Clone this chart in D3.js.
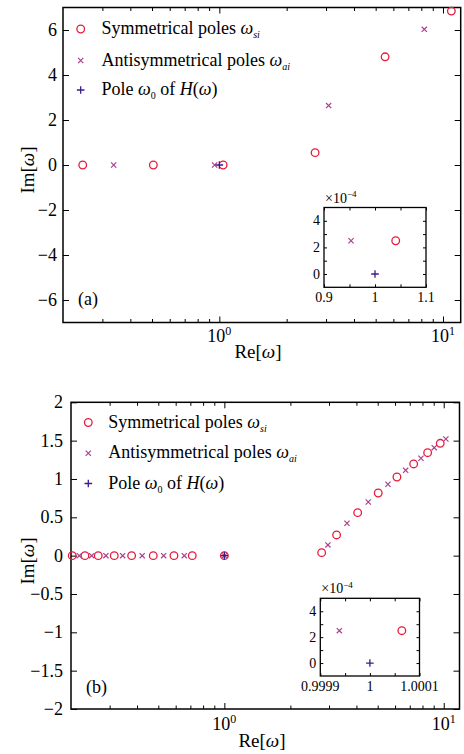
<!DOCTYPE html>
<html>
<head>
<meta charset="utf-8">
<script src="https://cdn.jsdelivr.net/npm/d3@7"></script>
<style>
  body { margin: 0; background: #fff; }
  svg, svg text, svg tspan { font-family: "Liberation Serif", "Times New Roman", serif; }
  svg text { fill: #000; }
</style>
</head>
<body>
<svg id="chart" width="464" height="754" font-family="Liberation Serif, serif"></svg>
<script>
// ---------- panel (a) ----------
const symReA  = [0.245, 0.507, 1.04, 2.68, 5.51, 10.9];
const symImA  = [0, 0, 0, 0.55, 4.81, 6.84];
const antiReA = [0.337, 0.953, 3.08, 8.25];
const antiImA = [0, 0, 2.64, 6.03];
const poleReA = [1.0];
const poleImA = [0];
const yTicksA = [-6, -4, -2, 0, 2, 4, 6];

// inset (a): imaginary part in units of 1e-4
const insSymReA  = [1.0406], insSymImA  = [2.5];
const insAntiReA = [0.953],  insAntiImA = [2.5];
const insPoleReA = [1.0],    insPoleImA = [0];
const insXTicksA  = [0.9, 1, 1.1];
const insXLabelsA = ["0.9", "1", "1.1"];
const insXMinorA  = [0.95, 1.05];

// ---------- panel (b) ----------
const symReB  = [0.2026, 0.2316, 0.2662, 0.3149, 0.3779, 0.4743, 0.5892, 0.7141, 1.00006,
                 2.777, 3.249, 4.052, 5.029, 6.119, 7.293, 8.446, 9.639];
const symImB  = [0, 0, 0, 0, 0, 0, 0, 0, 0,
                 0.039, 0.27, 0.561, 0.817, 1.026, 1.196, 1.343, 1.465];
const antiReB = [0.2182, 0.2484, 0.2886, 0.3439, 0.4223, 0.5289, 0.6568, 0.99994,
                 2.966, 3.622, 4.528, 5.568, 6.706, 7.873, 9.051, 10.23];
const antiImB = [0, 0, 0, 0, 0, 0, 0, 0,
                 0.140, 0.422, 0.700, 0.931, 1.113, 1.270, 1.408, 1.521];
const poleReB = [1.0];
const poleImB = [0];
const yTicksB = [-2, -1.5, -1, -0.5, 0, 0.5, 1, 1.5, 2];

// inset (b): imaginary part in units of 1e-4
const insSymReB  = [1.0000644], insSymImB  = [2.5];
const insAntiReB = [0.9999384], insAntiImB = [2.5];
const insPoleReB = [1.0],       insPoleImB = [0];
const insXTicksB  = [0.9999, 1, 1.0001];
const insXLabelsB = ["0.9999", "1", "1.0001"];
const insXMinorB  = [0.99995, 1.00005];

// shared inset y ticks (×1e-4)
const insYTicks = [0, 2, 4];
const insYMinor = [1, 3];

// decade ticks of the log axis
const decadeTicks = [1, 10];
const decadeExp   = ["0", "1"];

const legendNames = ["Symmetrical poles ", "Antisymmetrical poles ", "Pole "];

const COL_SYM  = "#e8193c";
const COL_ANTI = "#a8418f";
const COL_POLE = "#3b1c8c";
const SERIF = "'Liberation Serif', 'Times New Roman', serif";

const svg = d3.select("#chart");
const minus = s => String(s).replace("-", "\u2212");

function txt(parent) {
  return parent.append("text").attr("font-family", SERIF);
}

// writes a run of styled pieces into a <text>
function rich(text, parts, size) {
  let shift = 0;
  parts.forEach(p => {
    const t = text.append("tspan").attr("font-family", SERIF).text(p.t);
    const want = p.sub ? 4 : p.sup ? -7 * (p.k || 1) : 0;
    if (want !== shift) { t.attr("dy", want - shift); shift = want; }
    if (p.i) t.attr("font-style", "italic");
    if (p.sub || p.sup) t.attr("font-size", p.fs || Math.round(size * 0.62));
  });
  return text;
}

function markers(g, x, y, re, im) {
  const r = 3.8, sx = 2.6, sp = 3.8;
  const sym = d3.zip(re.sym, im.sym), anti = d3.zip(re.anti, im.anti), pole = d3.zip(re.pole, im.pole);
  g.append("g").selectAll("circle").data(sym).join("circle")
    .attr("cx", d => x(d[0])).attr("cy", d => y(d[1])).attr("r", r)
    .attr("fill", "none").attr("stroke", COL_SYM).attr("stroke-width", 1.3);
  g.append("g").selectAll("path").data(anti).join("path")
    .attr("d", d => { const cx = x(d[0]), cy = y(d[1]);
      return `M${cx - sx},${cy - sx}L${cx + sx},${cy + sx}M${cx - sx},${cy + sx}L${cx + sx},${cy - sx}`; })
    .attr("stroke", COL_ANTI).attr("stroke-width", 1.2).attr("fill", "none");
  g.append("g").selectAll("path").data(pole).join("path")
    .attr("d", d => { const cx = x(d[0]), cy = y(d[1]);
      return `M${cx - sp},${cy}L${cx + sp},${cy}M${cx},${cy - sp}L${cx},${cy + sp}`; })
    .attr("stroke", COL_POLE).attr("stroke-width", 1.3).attr("fill", "none");
}

function tickAxis(g, axisFn, scale, values, size, transform) {
  g.append("g").attr("transform", transform || null)
    .call(axisFn(scale).tickValues(values).tickSize(size).tickFormat(""))
    .call(a => a.select(".domain").remove())
    .call(a => a.selectAll("line").attr("stroke", "#000").attr("stroke-width", 1));
}

function drawPanel(p) {
  const x = d3.scaleLog().domain(p.xDomain).range([p.left, p.right]);
  const y = d3.scaleLinear().domain(p.yDomain).range([p.bottom, p.top]);
  const g = svg.append("g");
  const w = p.right - p.left, h = p.bottom - p.top;

  // log minor ticks 2..9 per decade
  const minor = [];
  [0.1, 1, 10].forEach(b => { for (let k = 2; k <= 9; k++) { const v = b * k; if (v > p.xDomain[0] && v < p.xDomain[1]) minor.push(v); } });

  tickAxis(g, d3.axisBottom, x, decadeTicks, -6, `translate(0,${p.bottom})`);
  tickAxis(g, d3.axisTop, x, decadeTicks, -6, `translate(0,${p.top})`);
  tickAxis(g, d3.axisBottom, x, minor, -3.5, `translate(0,${p.bottom})`);
  tickAxis(g, d3.axisTop, x, minor, -3.5, `translate(0,${p.top})`);
  tickAxis(g, d3.axisLeft, y, p.yTicks, -6, `translate(${p.left},0)`);
  tickAxis(g, d3.axisRight, y, p.yTicks, -6, `translate(${p.right},0)`);

  g.append("rect").attr("x", p.left).attr("y", p.top).attr("width", w).attr("height", h)
    .attr("fill", "none").attr("stroke", "#000").attr("stroke-width", 1.5);

  // y tick labels
  g.append("g").selectAll("text").data(p.yTicks).join("text").attr("font-family", SERIF)
    .attr("x", p.left - p.yLabGap).attr("y", d => y(d)).attr("dy", "0.33em")
    .attr("text-anchor", "end").attr("font-size", 18).text(d => minus(d));

  // decade labels
  decadeTicks.forEach((v, i) => {
    const t = txt(g).attr("x", x(v)).attr("y", p.xLabY).attr("text-anchor", "middle").attr("font-size", 18);
    rich(t, [{ t: "10" }, { t: decadeExp[i], sup: true, fs: 12 }], 18);
  });

  // axis titles
  rich(txt(g).attr("x", p.reX).attr("y", p.reY).attr("text-anchor", "middle").attr("font-size", 19),
    [{ t: "Re[" }, { t: "\u03c9", i: true }, { t: "]" }], 19);
  rich(txt(g).attr("transform", `translate(${p.imX},${p.imY}) rotate(-90)`).attr("text-anchor", "middle").attr("font-size", 19),
    [{ t: "Im[" }, { t: "\u03c9", i: true }, { t: "]" }], 19);

  txt(g).attr("x", p.tagX).attr("y", p.tagY).attr("font-size", 18).text(p.tag);

  markers(g, x, y, { sym: p.symRe, anti: p.antiRe, pole: p.poleRe }, { sym: p.symIm, anti: p.antiIm, pole: p.poleIm });

  // legend
  const lg = g.append("g");
  const L = p.legend;
  lg.append("circle").attr("cx", L.mx).attr("cy", L.ys[0] - 5).attr("r", 3.8)
    .attr("fill", "none").attr("stroke", COL_SYM).attr("stroke-width", 1.3);
  const s = 2.6, cy1 = L.ys[1] - 5;
  lg.append("path").attr("d", `M${L.mx - s},${cy1 - s}L${L.mx + s},${cy1 + s}M${L.mx - s},${cy1 + s}L${L.mx + s},${cy1 - s}`)
    .attr("stroke", COL_ANTI).attr("stroke-width", 1.2);
  const sp = 3.8, cy2 = L.ys[2] - 5;
  lg.append("path").attr("d", `M${L.mx - sp},${cy2}L${L.mx + sp},${cy2}M${L.mx},${cy2 - sp}L${L.mx},${cy2 + sp}`)
    .attr("stroke", COL_POLE).attr("stroke-width", 1.3);
  const fs = 18;
  rich(txt(lg).attr("x", L.tx).attr("y", L.ys[0]).attr("font-size", fs),
    [{ t: legendNames[0] }, { t: "\u03c9", i: true }, { t: "si", i: true, sub: true, fs: 10 }], fs);
  rich(txt(lg).attr("x", L.tx).attr("y", L.ys[1]).attr("font-size", fs),
    [{ t: legendNames[1] }, { t: "\u03c9", i: true }, { t: "ai", i: true, sub: true, fs: 10 }], fs);
  rich(txt(lg).attr("x", L.tx).attr("y", L.ys[2]).attr("font-size", fs),
    [{ t: legendNames[2] }, { t: "\u03c9", i: true }, { t: "0", sub: true, fs: 10 }, { t: " of " }, { t: "H", i: true }, { t: "(" }, { t: "\u03c9", i: true }, { t: ")" }], fs);

  drawInset(p.inset);
}

function drawInset(q) {
  const x = d3.scaleLinear().domain(q.xDomain).range([q.left, q.right]);
  const y = d3.scaleLinear().domain([-1, 5]).range([q.bottom, q.top]);
  const g = svg.append("g");
  g.append("rect").attr("x", q.left).attr("y", q.top).attr("width", q.right - q.left).attr("height", q.bottom - q.top)
    .attr("fill", "#fff").attr("stroke", "none");

  const xt = q.xTicks.concat(q.xMinor), yt = insYTicks.concat(insYMinor);
  tickAxis(g, d3.axisBottom, x, xt, -3, `translate(0,${q.bottom})`);
  tickAxis(g, d3.axisTop, x, xt, -3, `translate(0,${q.top})`);
  tickAxis(g, d3.axisLeft, y, yt, -3, `translate(${q.left},0)`);
  tickAxis(g, d3.axisRight, y, yt, -3, `translate(${q.right},0)`);

  g.append("rect").attr("x", q.left).attr("y", q.top).attr("width", q.right - q.left).attr("height", q.bottom - q.top)
    .attr("fill", "none").attr("stroke", "#000").attr("stroke-width", 1.3);

  g.append("g").selectAll("text").data(q.xTicks).join("text").attr("font-family", SERIF)
    .attr("x", d => x(d)).attr("y", q.bottom + 15).attr("text-anchor", "middle").attr("font-size", 14)
    .attr("fill", "#222").text((d, i) => q.xLabels[i]);
  g.append("g").selectAll("text").data(insYTicks).join("text").attr("font-family", SERIF)
    .attr("x", q.left - 4).attr("y", d => y(d)).attr("dy", "0.33em").attr("text-anchor", "end").attr("font-size", 14)
    .attr("fill", "#222").text(d => d);
  rich(txt(g).attr("x", q.left + 1).attr("y", q.top - 5).attr("font-size", 14).attr("fill", "#222"),
    [{ t: "\u00d710" }, { t: "\u22124", sup: true, fs: 9, k: 0.8 }], 14);

  markers(g, x, y, { sym: q.symRe, anti: q.antiRe, pole: q.poleRe }, { sym: q.symIm, anti: q.antiIm, pole: q.poleIm });
}

function render() {
  drawPanel({
    left: 63, right: 460.7, top: 7.5, bottom: 322.5,
    xDomain: [0.2, 12], yDomain: [-7, 7], yTicks: yTicksA, yLabGap: 6,
    xLabY: 342, reX: 258, reY: 358, imX: 34, imY: 170, tag: "(a)", tagX: 78, tagY: 305,
    symRe: symReA, symIm: symImA, antiRe: antiReA, antiIm: antiImA, poleRe: poleReA, poleIm: poleImA,
    legend: { mx: 80.7, tx: 101.5, ys: [34, 65.5, 95] },
    inset: {
      left: 324, right: 426, top: 207.5, bottom: 287.3, xDomain: [0.9, 1.1],
      xTicks: insXTicksA, xLabels: insXLabelsA, xMinor: insXMinorA,
      symRe: insSymReA, symIm: insSymImA, antiRe: insAntiReA, antiIm: insAntiImA, poleRe: insPoleReA, poleIm: insPoleImA
    }
  });

  drawPanel({
    left: 71, right: 459.5, top: 402.3, bottom: 709,
    xDomain: [0.2, 11.8], yDomain: [-2, 2], yTicks: yTicksB, yLabGap: 8,
    xLabY: 730, reX: 262, reY: 747, imX: 34, imY: 561, tag: "(b)", tagX: 86, tagY: 693,
    symRe: symReB, symIm: symImB, antiRe: antiReB, antiIm: antiImB, poleRe: poleReB, poleIm: poleImB,
    legend: { mx: 88.3, tx: 108.3, ys: [427.5, 458.3, 488.5] },
    inset: {
      left: 320.3, right: 419.5, top: 598.3, bottom: 676, xDomain: [0.9999, 1.0001],
      xTicks: insXTicksB, xLabels: insXLabelsB, xMinor: insXMinorB,
      symRe: insSymReB, symIm: insSymImB, antiRe: insAntiReB, antiIm: insAntiImB, poleRe: insPoleReB, poleIm: insPoleImB
    }
  });
}

// make sure the serif face is ready before any text is laid out
const fontReady = (document.fonts && document.fonts.load)
  ? Promise.all([
      document.fonts.load("18px 'Liberation Serif'"),
      document.fonts.load("italic 18px 'Liberation Serif'")
    ]).catch(() => null)
  : Promise.resolve();
fontReady.then(render);
</script>
</body>
</html>
